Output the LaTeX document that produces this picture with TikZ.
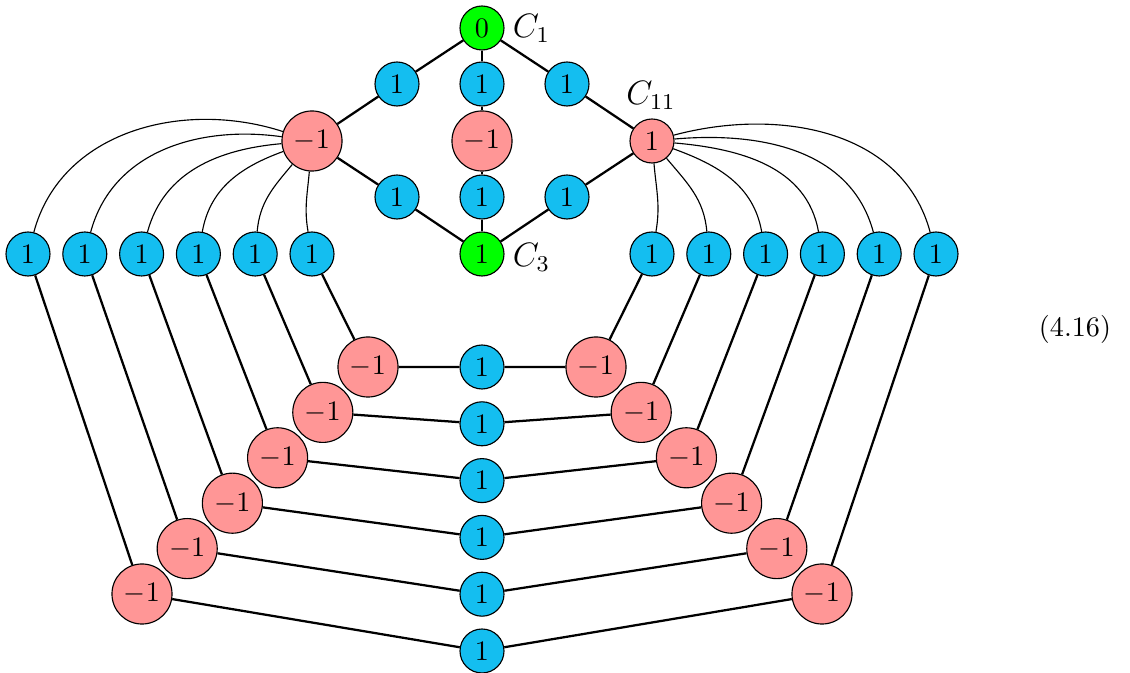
\documentclass[tikz,border=0pt]{standalone}
\usepackage{amsmath}
\usepackage{amssymb}
\usepackage{xcolor}
\usepackage{tikz}

\definecolor{skyblue}{RGB}{20,190,240}
\definecolor{rosered}{RGB}{255,150,150}
\definecolor{limegreen}{RGB}{0,255,0}

\tikzset{
    onenode/.style={circle, draw, fill=skyblue, minimum size=15.6pt, inner sep=0pt},
    negnode/.style={circle, draw, fill=rosered, minimum size=21.3pt, inner sep=0pt},
    posnode/.style={circle, draw, fill=rosered, minimum size=15.6pt, inner sep=0pt},
    rootnode/.style={circle, draw, fill=limegreen, minimum size=15.6pt, inner sep=0pt},
    cornerlabel/.style={font=\large},
}

\begin{document}
\begin{tikzpicture}[x=0.3546pt, y=-0.3546pt]
    \useasboundingbox (0,0) rectangle (1130,673);

    % Upper diamond
    \node[rootnode] (top) at (482,28) {0};
    \node[onenode] (ua) at (397,84) {1};
    \node[onenode] (ub) at (482,84) {1};
    \node[onenode] (uc) at (567,84) {1};
    \node[negnode] (left) at (312,141) {$-1$};
    \node[negnode] (mid) at (482,141) {$-1$};
    \node[posnode] (right) at (652,141) {1};
    \node[onenode] (la) at (397,197) {1};
    \node[onenode] (lb) at (482,197) {1};
    \node[onenode] (lc) at (567,197) {1};
    \node[rootnode] (bot) at (482,254) {1};

    % Labels
    \node[cornerlabel, anchor=west] (cone) at (503,28) {$C_1$};
    \node[cornerlabel] (celeven) at (651,95) {$C_{11}$};
    \node[cornerlabel, anchor=west] (cthree) at (503,257) {$C_3$};

    \draw[thick] (top) -- (ua) -- (left) -- (la) -- (bot);
    \draw[thick] (top) -- (ub) -- (mid) -- (lb) -- (bot);
    \draw[thick] (top) -- (uc) -- (right) -- (lc) -- (bot);

    % Rows of nested chains
    \foreach \i in {1,...,6} {
        \node[onenode] (tL\i) at ({312-56.8*(\i-1)},254) {1};
        \node[onenode] (tR\i) at ({652+56.8*(\i-1)},254) {1};
        \node[negnode] (dL\i) at ({368-45.2*(\i-1)},{367+45.4*(\i-1)}) {$-1$};
        \node[negnode] (dR\i) at ({596+45.2*(\i-1)},{367+45.4*(\i-1)}) {$-1$};
        \node[onenode] (m\i) at (482,{367+56.8*(\i-1)}) {1};
        \draw[thick] (tL\i) -- (dL\i) -- (m\i) -- (dR\i) -- (tR\i);
    }

    % Thin fans from the side nodes
    \foreach \i/\ang/\inn in {1/265/100, 2/230/85, 3/200/80, 4/185/75, 5/172/75, 6/162/75}
        \draw (left) to[out=\ang, in=\inn] (tL\i);
    \foreach \i/\ang/\inn in {1/-85/80, 2/-50/95, 3/-20/100, 4/-5/100, 5/5/105, 6/15/105}
        \draw (right) to[out=\ang, in=\inn] (tR\i);

    % Equation number
    \node (eqno) at (1075,329) {(4.16)};

\end{tikzpicture}
\end{document}
